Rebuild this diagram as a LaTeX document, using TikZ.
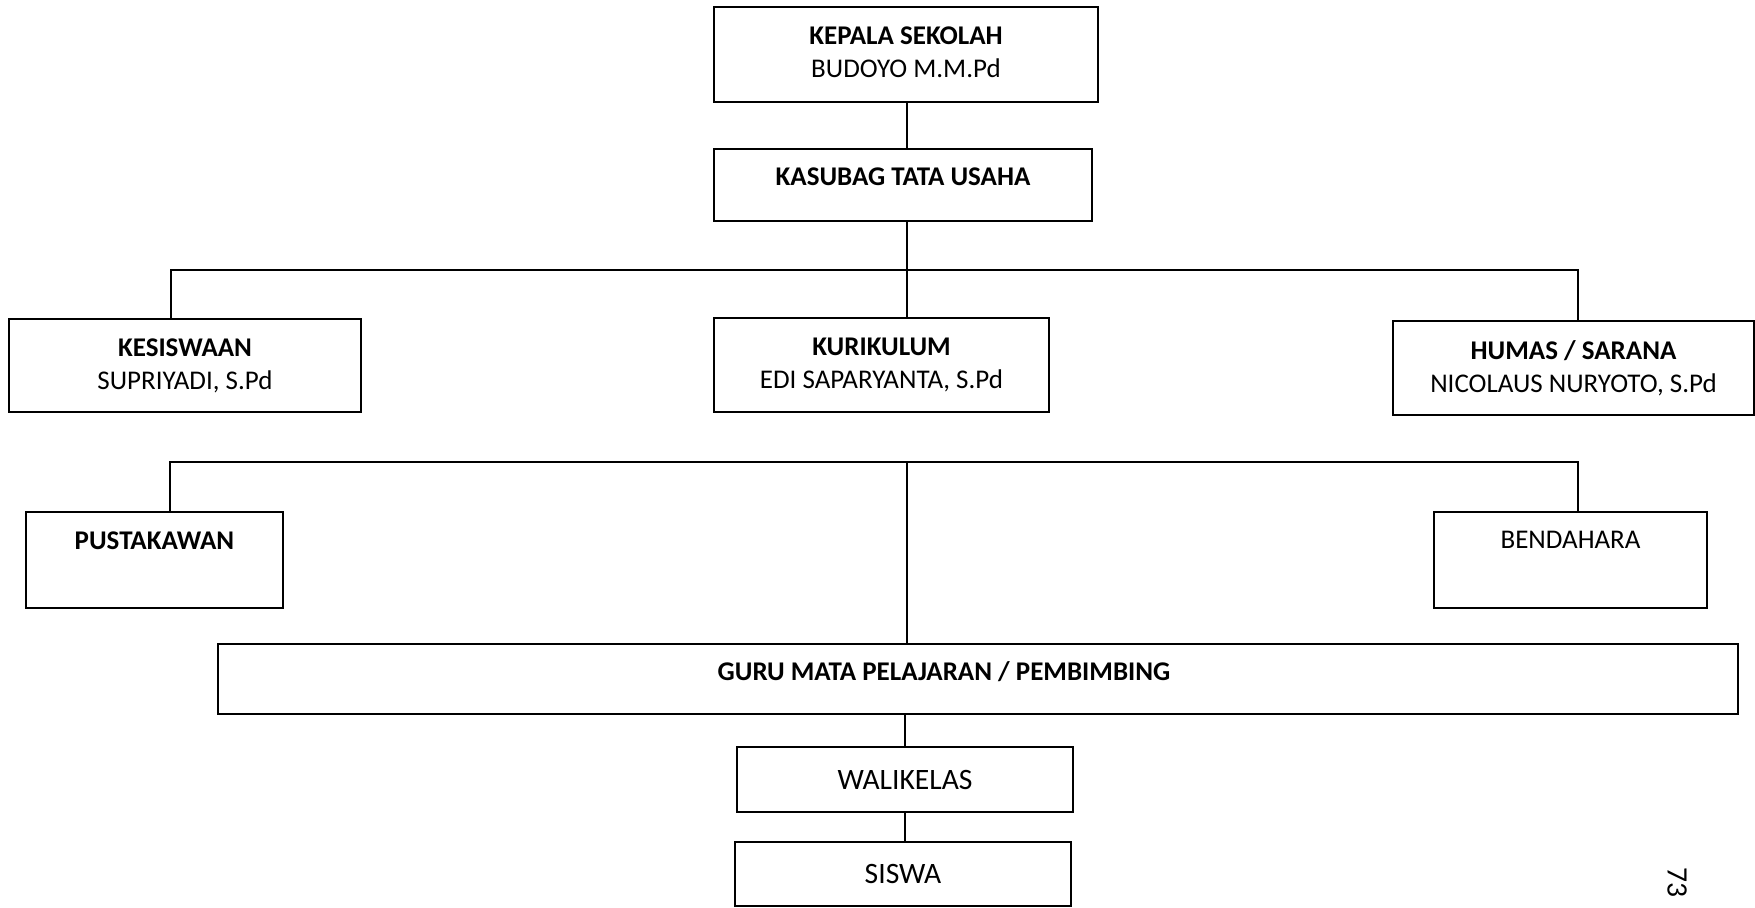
\documentclass[tikz,border=0pt]{standalone}
\usepackage{fontspec}
\setmainfont{Carlito}
\usetikzlibrary{calc}
\usetikzlibrary{positioning}

\tikzset{
  orgbox/.style={draw, line width=1pt, inner sep=3pt, align=center,
    font=\fontsize{13.5}{16.5}\selectfont},
  bigtext/.style={font=\fontsize{14.8}{17}\selectfont},
  lift/.style={text height=9pt, text depth=#1},
}

\begin{document}
\begin{tikzpicture}[x=0.5pt, y=-0.5pt, line width=1pt]
  \useasboundingbox (0,0) rectangle (1755,907);

  % top of the chart
  \node [orgbox, minimum width=192pt, minimum height=47.5pt] at (906,54.5) (kepala) {\raisebox{1.7pt}{\begin{tabular}{@{}c@{}}\textbf{KEPALA SEKOLAH}\\BUDOYO M.M.Pd\end{tabular}}};
  \node [orgbox, lift=8.8pt, minimum width=189pt, minimum height=36pt] at (903,185) (kasubag) {\textbf{KASUBAG TATA USAHA}};

  % wakil kepala
  \node [orgbox, minimum width=176pt, minimum height=46.5pt] at (185,365.5) (kesiswaan) {\textbf{KESISWAAN}\\SUPRIYADI, S.Pd};
  \node [orgbox, minimum width=167.5pt, minimum height=47pt] at (881.5,365) (kurikulum) {\textbf{KURIKULUM}\\EDI SAPARYANTA, S.Pd};
  \node [orgbox, minimum width=180.5pt, minimum height=47pt] at (1573.5,368) (humas) {\textbf{HUMAS / SARANA}\\NICOLAUS NURYOTO, S.Pd};

  % staff
  \node [orgbox, lift=19.6pt, minimum width=128.5pt, minimum height=48pt] at (154.5,560) (pustaka) {\textbf{PUSTAKAWAN}};
  \node [orgbox, lift=20.3pt, minimum width=136.5pt, minimum height=48pt] at (1570.5,560) (bendahara) {BENDAHARA};
  \node [orgbox, lift=7.8pt, minimum width=760pt, minimum height=35pt] at (978,679) (guru) {\textbf{GURU MATA PELAJARAN / PEMBIMBING}\hspace*{34pt}};
  \node [orgbox, bigtext, minimum width=168pt, minimum height=32.5pt] at (905,779.5) (walikelas) {WALIKELAS};
  \node [orgbox, bigtext, minimum width=168pt, minimum height=32pt] at (903,874) (siswa) {SISWA};

  \node [rotate=-90, bigtext] at (1677,882) (pagenum) {73};

  % branch points
  \coordinate (topleft) at (171,270);
  \coordinate (topmid) at (907,270);
  \coordinate (topright) at (1578,270);
  \coordinate (lowleft) at (170,462);
  \coordinate (lowmid) at (907,462);
  \coordinate (lowright) at (1578,462);

  \draw (kepala.south -| topmid) -- (kasubag.north -| topmid);
  \draw (kasubag.south -| topmid) -- (kurikulum.north -| topmid);
  \draw (kesiswaan.north -| topleft) -- (topleft) -- (topright) -- (humas.north -| topright);

  \draw (pustaka.north -| lowleft) -- (lowleft) -- (lowright) -- (bendahara.north -| lowright);
  \draw (lowmid) -- (guru.north -| lowmid);

  \draw (walikelas.north) -- (walikelas.north |- guru.south);
  \draw (walikelas.south) -- (walikelas.south |- siswa.north);

\end{tikzpicture}
\end{document}
